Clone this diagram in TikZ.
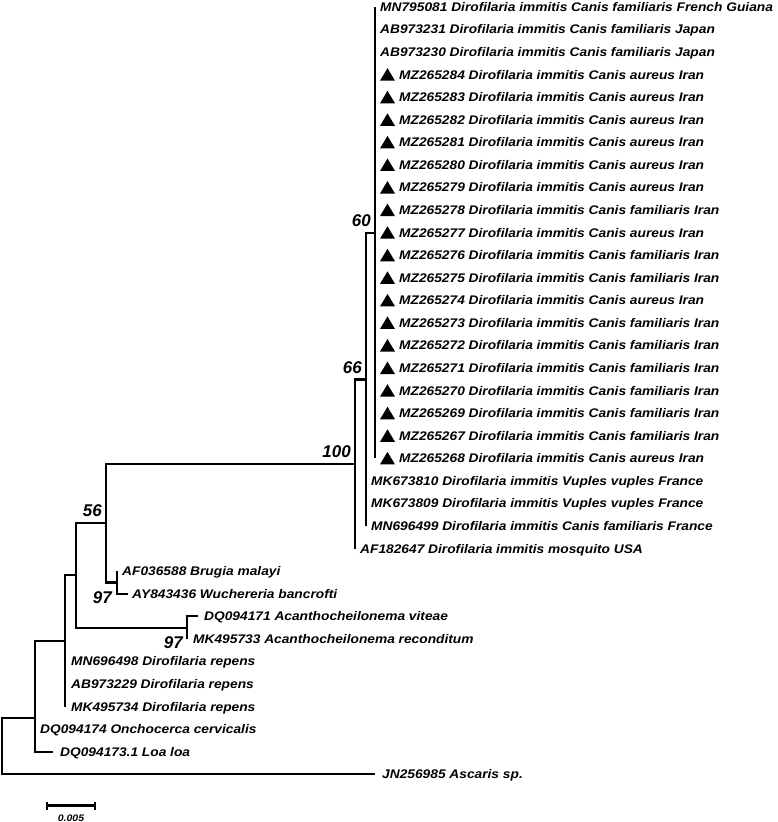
\documentclass[tikz,border=0pt]{standalone}
\usepackage{fontspec}
\setmainfont{Liberation Sans}
\newfontfamily\lff{Liberation Sans}[FakeStretch=1.1]
\begin{document}
\begin{tikzpicture}[x=1pt,y=-1pt,
  br/.style={line width=2.2pt, line join=miter, line cap=butt},
  lbl/.style={anchor=base west, inner sep=0pt, font=\lff\fontsize{12.5}{14}\selectfont\bfseries\itshape},
  bsa/.style={anchor=south east, inner sep=0pt, font=\fontsize{17}{19}\selectfont\bfseries\itshape},
  bsb/.style={anchor=north east, inner sep=0pt, font=\fontsize{17}{19}\selectfont\bfseries\itshape},
  sclbl/.style={inner sep=0pt, font=\lff\fontsize{9.5}{11}\selectfont\bfseries\itshape}]
\useasboundingbox (0,0) rectangle (777,822);
% ---- internal nodes and branch ends
\coordinate (n60) at (375,232.7);
\coordinate (l0) at (375,7);
\coordinate (l20) at (375,458.4);
\coordinate (n66) at (366,379.4);
\coordinate (l23) at (366,526.11);
\coordinate (n100) at (355,464);
\coordinate (l24) at (355,548.68);
\coordinate (n56) at (106,523);
\coordinate (nbw) at (117,582.5);
\coordinate (l25) at (117,571.25);
\coordinate (l26) at (128,593.82);
\coordinate (nD) at (76,575.3);
\coordinate (nac) at (187,627.7);
\coordinate (l27) at (198,616.39);
\coordinate (l28) at (187,638.96);
\coordinate (nB) at (65,641);
\coordinate (l31) at (65,706.67);
\coordinate (nA) at (35,718);
\coordinate (l33) at (53,751.81);
\coordinate (nR) at (2,746);
\coordinate (l34) at (375,774.38);
% ---- branches
\draw[br] (n60) |- (l0);
\draw[br] (n60) |- (l20);
\draw[br] (n66) |- (n60);
\draw[br] (n66) |- (l23);
\draw[br] (n100) |- (n66);
\draw[br] (n100) |- (l24);
\draw[br] (n56) |- (n100);
\draw[br] (n56) |- (nbw);
\draw[br] (nbw) |- (l25);
\draw[br] (nbw) |- (l26);
\draw[br] (nD) |- (n56);
\draw[br] (nD) |- (nac);
\draw[br] (nac) |- (l27);
\draw[br] (nac) |- (l28);
\draw[br] (nB) |- (nD);
\draw[br] (nB) |- (l31);
\draw[br] (nA) |- (nB);
\draw[br] (nA) |- (l33);
\draw[br] (nR) |- (nA);
\draw[br] (nR) |- (l34);
% ---- leaf labels
\foreach \i/\txt in {0/{MN795081 Dirofilaria immitis Canis familiaris French Guiana},
                     1/{AB973231 Dirofilaria immitis Canis familiaris Japan},
                     2/{AB973230 Dirofilaria immitis Canis familiaris Japan}}
  \node[lbl] (L\i) at (380,7+22.57*\i+4.4) {\txt};
\foreach \i/\id/\host in {3/MZ265284/aureus, 4/MZ265283/aureus, 5/MZ265282/aureus,
   6/MZ265281/aureus, 7/MZ265280/aureus, 8/MZ265279/aureus, 9/MZ265278/familiaris,
   10/MZ265277/aureus, 11/MZ265276/familiaris, 12/MZ265275/familiaris, 13/MZ265274/aureus,
   14/MZ265273/familiaris, 15/MZ265272/familiaris, 16/MZ265271/familiaris,
   17/MZ265270/familiaris, 18/MZ265269/familiaris, 19/MZ265267/familiaris, 20/MZ265268/aureus}{
  \fill (380,7+22.57*\i+6) -- ++(15,0) -- ++(-7.5,-12.5) -- cycle;
  \node[lbl] (L\i) at (399,7+22.57*\i+4.4) {\id\ Dirofilaria immitis Canis \host\ Iran};
}
\node[lbl] (L21) at (371,480.97+4.4) {MK673810 Dirofilaria immitis Vuples vuples France};
\node[lbl] (L22) at (371,503.54+4.4) {MK673809 Dirofilaria immitis Vuples vuples France};
\node[lbl] (L23) at (371,526.11+4.4) {MN696499 Dirofilaria immitis Canis familiaris France};
\node[lbl] (L24) at (360,548.68+4.4) {AF182647 Dirofilaria immitis mosquito USA};
\node[lbl] (L25) at (122,571.25+4.4) {AF036588 Brugia malayi};
\node[lbl] (L26) at (132,593.82+4.4) {AY843436 Wuchereria bancrofti};
\node[lbl] (L27) at (204,616.39+4.4) {DQ094171 Acanthocheilonema viteae};
\node[lbl] (L28) at (193,638.96+4.4) {MK495733 Acanthocheilonema reconditum};
\node[lbl] (L29) at (71,661.53+4.4) {MN696498 Dirofilaria repens};
\node[lbl] (L30) at (71,684.1+4.4) {AB973229 Dirofilaria repens};
\node[lbl] (L31) at (71,706.67+4.4) {MK495734 Dirofilaria repens};
\node[lbl] (L32) at (40,729.24+4.4) {DQ094174 Onchocerca cervicalis};
\node[lbl] (L33) at (60,751.81+4.4) {DQ094173.1 Loa loa};
\node[lbl] (L34) at (382,774.38+4.4) {JN256985 Ascaris sp.};
% ---- bootstrap values
\node[bsa] (b60) at (371,226.7) {60};
\node[bsa] (b66) at (362,373.4) {66};
\node[bsa] (b100) at (351,458) {100};
\node[bsa] (b56) at (102,517) {56};
\node[bsb] (b97a) at (112,591.5) {97};
\node[bsb] (b97b) at (183,636.7) {97};
% ---- scale bar
\coordinate (sb1) at (47,805.5);
\coordinate (sb2) at (95,805.5);
\draw[br] (sb1) -- (sb2);
\draw[br] ([yshift=-4pt]sb1) -- ([yshift=4pt]sb1);
\draw[br] ([yshift=-4pt]sb2) -- ([yshift=4pt]sb2);
\node[sclbl] (sbl) at (71,818) {0.005};
\end{tikzpicture}
\end{document}
